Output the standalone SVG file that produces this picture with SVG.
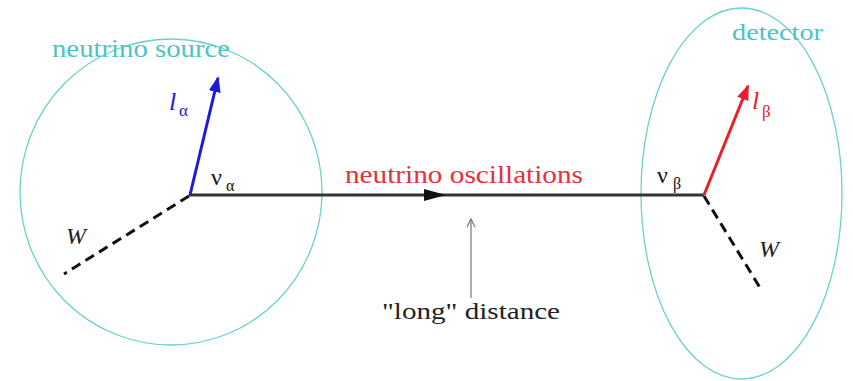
<svg xmlns="http://www.w3.org/2000/svg" width="853" height="381" viewBox="0 0 853 381">
<defs>
<style>
text{font-family:'Liberation Serif','Times New Roman',Times,serif}
.ring{fill:none;stroke:#6fcfcf;stroke-width:1.3}
.cyan{fill:#4cc4c4}
.dash{stroke:#111;stroke-width:3;stroke-dasharray:10 6;fill:none}
</style>
<marker id="ah-blue" viewBox="0 0 16 12" refX="14" refY="6" markerWidth="16" markerHeight="12" markerUnits="userSpaceOnUse" orient="auto"><path d="M0,0 L16,6 L0,12 Z" fill="#1c1cd8"/></marker>
<marker id="ah-red" viewBox="0 0 16 12" refX="14" refY="6" markerWidth="16" markerHeight="12" markerUnits="userSpaceOnUse" orient="auto"><path d="M0,0 L16,6 L0,12 Z" fill="#e8202c"/></marker>
<marker id="ah-gray" viewBox="0 0 10 10" refX="9" refY="5" markerWidth="10" markerHeight="10" markerUnits="userSpaceOnUse" orient="auto"><path d="M1,1 L9,5 L1,9" fill="none" stroke="#777" stroke-width="1.2"/></marker>
</defs>
<rect width="853" height="381" fill="#fff"/>
<g id="source">
<ellipse class="ring" cx="171" cy="192" rx="151" ry="153"/>
<text class="cyan" x="52" y="57" font-size="25" font-family="Liberation Serif" textLength="178" lengthAdjust="spacingAndGlyphs">neutrino source</text>
</g>
<g id="detector">
<ellipse class="ring" cx="741.5" cy="193.5" rx="100.5" ry="185.5"/>
<text class="cyan" x="732" y="40" font-size="24" font-family="Liberation Serif" textLength="91" lengthAdjust="spacingAndGlyphs">detector</text>
</g>
<g id="connectors">
<line x1="189" y1="195" x2="704" y2="195" stroke="#333" stroke-width="3"/>
<path d="M424,189 L446,195 L424,201 Z" fill="#111"/>
<line x1="190" y1="195" x2="218" y2="78" stroke="#1c1cd8" stroke-width="3" marker-end="url(#ah-blue)"/>
<line x1="704" y1="195" x2="748" y2="86" stroke="#e8202c" stroke-width="3" marker-end="url(#ah-red)"/>
<line class="dash" x1="189" y1="196" x2="64" y2="274"/>
<line class="dash" x1="704" y1="196" x2="762" y2="291"/>
<line x1="471" y1="298" x2="471" y2="219" stroke="#777" stroke-width="1.2" marker-end="url(#ah-gray)"/>
</g>
<g id="labels">
<text x="345" y="183" font-size="25" fill="#e8303c" font-family="Liberation Serif" textLength="238" lengthAdjust="spacingAndGlyphs">neutrino oscillations</text>
<text x="382" y="319" font-size="24" fill="#222" font-family="Liberation Serif" textLength="178" lengthAdjust="spacingAndGlyphs">"long" distance</text>
<text x="169" y="110" font-size="26" font-style="italic" fill="#1c1cd8">l</text>
<text x="179" y="116" font-size="17" fill="#1c1cd8">α</text>
<text x="211" y="185" font-size="24" fill="#111">ν</text>
<text x="226" y="191" font-size="16" fill="#111">α</text>
<text x="657" y="183" font-size="24" fill="#111">ν</text>
<text x="673" y="189" font-size="16" fill="#111">β</text>
<text x="752" y="109" font-size="26" font-style="italic" fill="#e8202c">l</text>
<text x="762" y="117" font-size="17" fill="#e8202c">β</text>
<text x="66" y="244" font-size="24" font-style="italic" fill="#222">W</text>
<text x="759" y="257" font-size="24" font-style="italic" fill="#222">W</text>
</g>
</svg>
